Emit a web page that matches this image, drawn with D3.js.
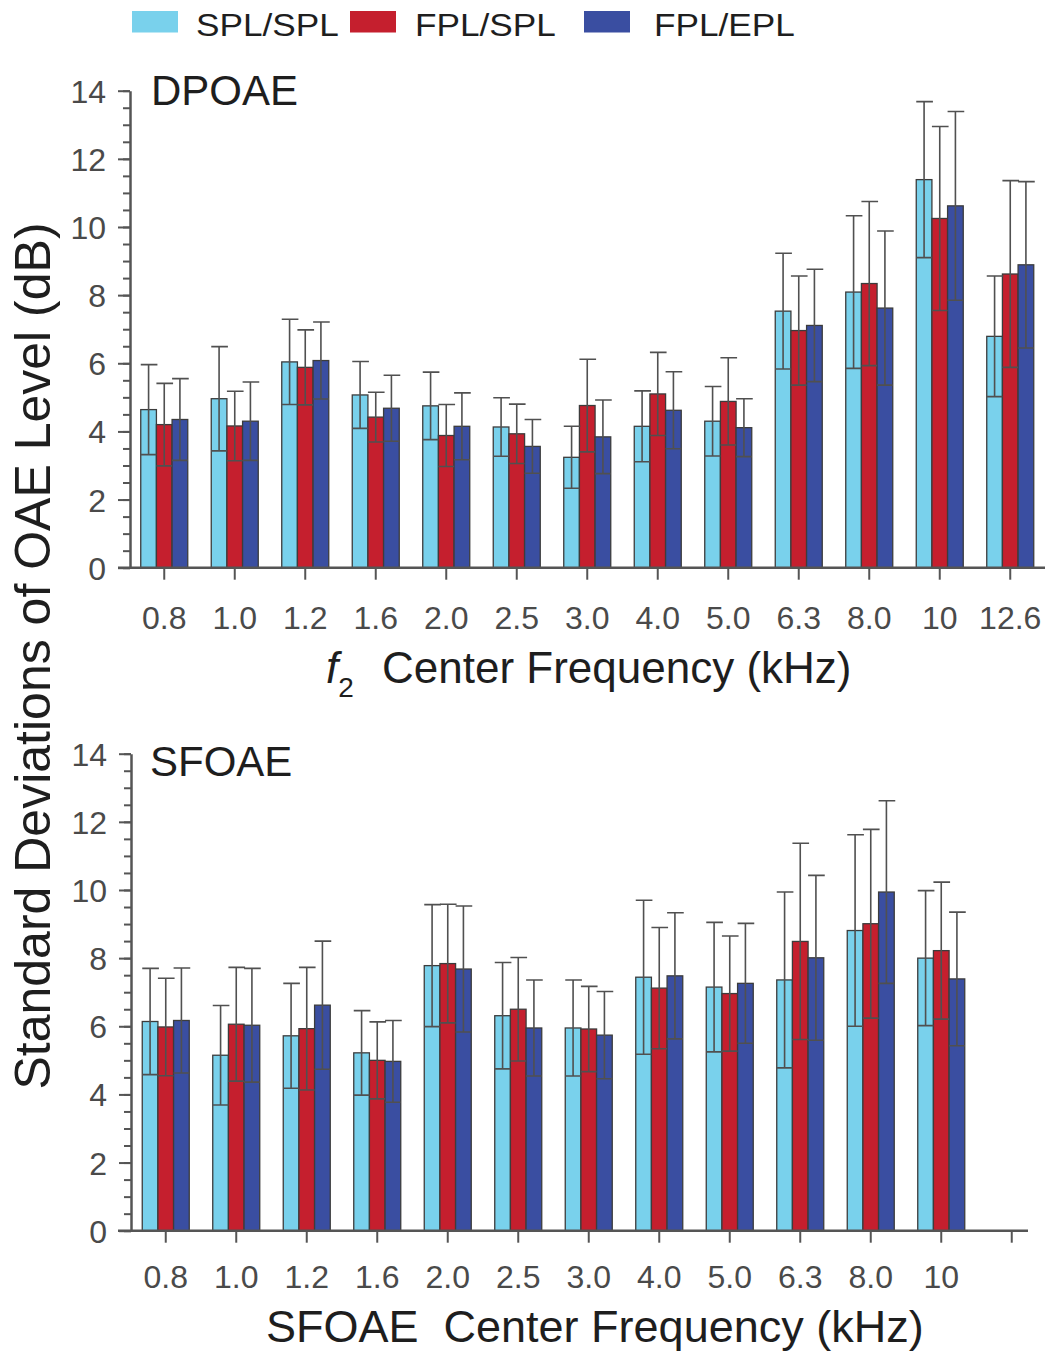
<!DOCTYPE html>
<html>
<head>
<meta charset="utf-8">
<script src="https://cdn.jsdelivr.net/npm/d3@7"></script>
<style>
    body { margin: 0; background: #fff; }
    text { font-family: "Liberation Sans", Arial, sans-serif; }
</style>
</head>
<body>
<div id="chart_div"></div>
<script>

// frequency categories (kHz)
var dpFreqs = ["0.8", "1.0", "1.2", "1.6", "2.0", "2.5", "3.0", "4.0", "5.0", "6.3", "8.0", "10", "12.6"];
var sfFreqs = ["0.8", "1.0", "1.2", "1.6", "2.0", "2.5", "3.0", "4.0", "5.0", "6.3", "8.0", "10"];
var seriesNames = ["SPL/SPL", "FPL/SPL", "FPL/EPL"];

// DPOAE: standard deviations (bar height) and their spread (error bar)
var dpSplSpl = [4.64, 4.96, 6.04, 5.07, 4.75, 4.13, 3.24, 4.15, 4.30, 7.53, 8.09, 11.39, 6.79];
var dpFplSpl = [4.20, 4.16, 5.88, 4.42, 3.88, 3.93, 4.76, 5.10, 4.88, 6.96, 8.34, 10.25, 8.62];
var dpFplEpl = [4.35, 4.30, 6.08, 4.68, 4.15, 3.56, 3.84, 4.62, 4.11, 7.11, 7.62, 10.62, 8.89];
var dpErrSplSpl = [1.32, 1.53, 1.25, 0.98, 0.99, 0.86, 0.91, 1.04, 1.02, 1.70, 2.24, 2.29, 1.77];
var dpErrFplSpl = [1.21, 1.02, 1.10, 0.73, 0.91, 0.87, 1.36, 1.22, 1.28, 1.60, 2.41, 2.70, 2.74];
var dpErrFplEpl = [1.20, 1.15, 1.13, 0.97, 0.98, 0.79, 1.08, 1.13, 0.85, 1.65, 2.26, 2.77, 2.44];

// SFOAE
var sfSplSpl = [6.14, 5.15, 5.72, 5.22, 7.78, 6.31, 5.95, 7.44, 7.15, 7.36, 8.81, 8.00];
var sfFplSpl = [5.98, 6.06, 5.93, 5.00, 7.84, 6.50, 5.92, 7.12, 6.96, 8.49, 9.01, 8.22];
var sfFplEpl = [6.17, 6.03, 6.62, 4.97, 7.68, 5.95, 5.74, 7.48, 7.26, 8.01, 9.94, 7.39];
var sfErrSplSpl = [1.56, 1.46, 1.54, 1.24, 1.79, 1.56, 1.41, 2.26, 1.90, 2.58, 2.81, 1.98];
var sfErrFplSpl = [1.43, 1.67, 1.80, 1.13, 1.74, 1.52, 1.25, 1.78, 1.69, 2.88, 2.77, 2.01];
var sfErrFplEpl = [1.54, 1.67, 1.88, 1.20, 1.85, 1.41, 1.28, 1.85, 1.76, 2.42, 2.68, 1.96];

var yTicks = [0, 2, 4, 6, 8, 10, 12, 14];

var colors = ["#79d1ec", "#c51f2e", "#3a4ea1"];
var axisColor = "#555";
var labelColor = "#4a4a4a";

var svg = d3.select("#chart_div").append("svg")
    .attr("width", 1045)
    .attr("height", 1355);

// legend
var legendX = [132, 350, 584];
var legendTextX = [196, 415, 654];
var legend = svg.append("g");
legend.selectAll("rect")
    .data(seriesNames)
    .enter().append("rect")
    .attr("x", function (d, i) { return legendX[i]; })
    .attr("y", 11)
    .attr("width", 46)
    .attr("height", 21.5)
    .attr("fill", function (d, i) { return colors[i]; });
legend.selectAll("text")
    .data(seriesNames)
    .enter().append("text")
    .attr("transform", function (d, i) {
        return "translate(" + legendTextX[i] + ",36) scale(1.1,1)";
    })
    .attr("font-size", 32)
    .attr("fill", "#1e1e1e")
    .text(function (d) { return d; });

function drawPanel(cfg) {

    var g = svg.append("g");

    var x = d3.scaleBand()
        .domain(dpFreqs)
        .range([cfg.x0, cfg.x0 + dpFreqs.length * 70.5])
        .paddingInner(1 - 47 / 70.5)
        .paddingOuter((1 - 47 / 70.5) / 2);

    var xSub = d3.scaleBand()
        .domain(seriesNames)
        .range([0, x.bandwidth()]);

    var y = d3.scaleLinear()
        .domain([0, 14])
        .range([cfg.yZero, cfg.yTop]);

    var rows = [];
    cfg.freqs.forEach(function (f, i) {
        seriesNames.forEach(function (s, j) {
            rows.push({freq: f, series: s, k: j, value: cfg.values[j][i], err: cfg.errors[j][i]});
        });
    });

    // bars
    g.selectAll(".bar")
        .data(rows)
        .enter().append("rect")
        .attr("class", "bar")
        .attr("x", function (d) { return x(d.freq) + xSub(d.series); })
        .attr("y", function (d) { return y(d.value); })
        .attr("width", xSub.bandwidth())
        .attr("height", function (d) { return y(0) - y(d.value); })
        .attr("fill", function (d) { return colors[d.k]; })
        .attr("stroke", "#3c3c3c")
        .attr("stroke-width", 1.3);

    // error bars
    g.selectAll(".err")
        .data(rows)
        .enter().append("path")
        .attr("class", "err")
        .attr("fill", "none")
        .attr("stroke", "#505050")
        .attr("stroke-width", 1.6)
        .attr("d", function (d) {
            var x1 = x(d.freq) + xSub(d.series),
                x2 = x1 + xSub.bandwidth(),
                xm = (x1 + x2) / 2,
                lo = y(d.value - d.err),
                hi = y(d.value + d.err);
            return "M" + x1 + "," + lo + "H" + x2
                + "M" + xm + "," + lo + "V" + hi
                + "M" + x1 + "," + hi + "H" + (x2 + 1);
        });

    // y axis
    var yMinor = g.append("g")
        .attr("transform", "translate(" + cfg.yAxisX + ",0)")
        .call(d3.axisLeft(y).tickValues(d3.range(0, 14.01, 0.5)).tickSize(7).tickSizeOuter(0).tickFormat(""));
    yMinor.select(".domain").remove();
    yMinor.selectAll("line").attr("stroke", axisColor).attr("stroke-width", 2);

    var yAxis = g.append("g")
        .attr("transform", "translate(" + cfg.yAxisX + ",0)")
        .call(d3.axisLeft(y).tickValues(yTicks).tickSize(12).tickSizeOuter(0).tickPadding(12));
    yAxis.select(".domain").attr("stroke", axisColor).attr("stroke-width", 2.5);
    yAxis.selectAll("line").attr("stroke", axisColor).attr("stroke-width", 2);
    yAxis.selectAll("text")
        .attr("font-size", 32)
        .attr("font-family", "Liberation Sans, Arial, sans-serif")
        .attr("fill", labelColor)
        .attr("x", -24)
        .attr("dy", "0.36em");

    // x axis
    var xAxis = g.append("g")
        .attr("transform", "translate(0," + cfg.yZero + ")")
        .call(d3.axisBottom(x).tickSize(12).tickSizeOuter(0).tickFormat(function (d) {
            return cfg.freqs.indexOf(d) >= 0 ? d : "";
        }));
    xAxis.select(".domain").remove();
    xAxis.selectAll("line").attr("stroke", axisColor).attr("stroke-width", 2);
    xAxis.selectAll("text")
        .attr("font-size", 32)
        .attr("font-family", "Liberation Sans, Arial, sans-serif")
        .attr("fill", labelColor)
        .attr("y", cfg.tickLabelY - cfg.yZero)
        .attr("dy", 0);

    g.append("line")
        .attr("x1", 118)
        .attr("x2", cfg.lineEnd)
        .attr("y1", cfg.yZero)
        .attr("y2", cfg.yZero)
        .attr("stroke", axisColor)
        .attr("stroke-width", 2.5);

    g.append("text")
        .attr("x", cfg.labelX)
        .attr("y", cfg.labelY)
        .attr("font-size", 42)
        .attr("fill", "#1e1e1e")
        .text(cfg.label);
}

drawPanel({
    freqs: dpFreqs,
    values: [dpSplSpl, dpFplSpl, dpFplEpl],
    errors: [dpErrSplSpl, dpErrFplSpl, dpErrFplEpl],
    x0: 129, yAxisX: 130, yTop: 90.7, yZero: 567.7, lineEnd: 1045,
    tickLabelY: 629, label: "DPOAE", labelX: 151, labelY: 105
});

drawPanel({
    freqs: sfFreqs,
    values: [sfSplSpl, sfFplSpl, sfFplEpl],
    errors: [sfErrSplSpl, sfErrFplSpl, sfErrFplEpl],
    x0: 130.5, yAxisX: 131, yTop: 753.7, yZero: 1230.7, lineEnd: 1028,
    tickLabelY: 1288, label: "SFOAE", labelX: 150, labelY: 776
});

// axis titles
svg.append("text")
    .attr("transform", "translate(50,656) rotate(-90)")
    .attr("text-anchor", "middle")
    .attr("font-size", 50)
    .attr("fill", "#1e1e1e")
    .text("Standard Deviations of OAE Level (dB)");

var topTitle = svg.append("text")
    .attr("x", 326)
    .attr("y", 683)
    .attr("font-size", 44)
    .attr("fill", "#1e1e1e");
topTitle.append("tspan").attr("font-style", "italic").text("f");
topTitle.append("tspan").attr("font-size", 28).attr("dy", 14).text("2");
topTitle.append("tspan").attr("x", 382).attr("y", 683).text("Center Frequency (kHz)");

svg.append("text")
    .attr("x", 266)
    .attr("y", 1342)
    .attr("font-size", 45)
    .attr("fill", "#1e1e1e")
    .attr("xml:space", "preserve")
    .style("white-space", "pre")
    .text("SFOAE  Center Frequency (kHz)");

</script>
</body>
</html>
